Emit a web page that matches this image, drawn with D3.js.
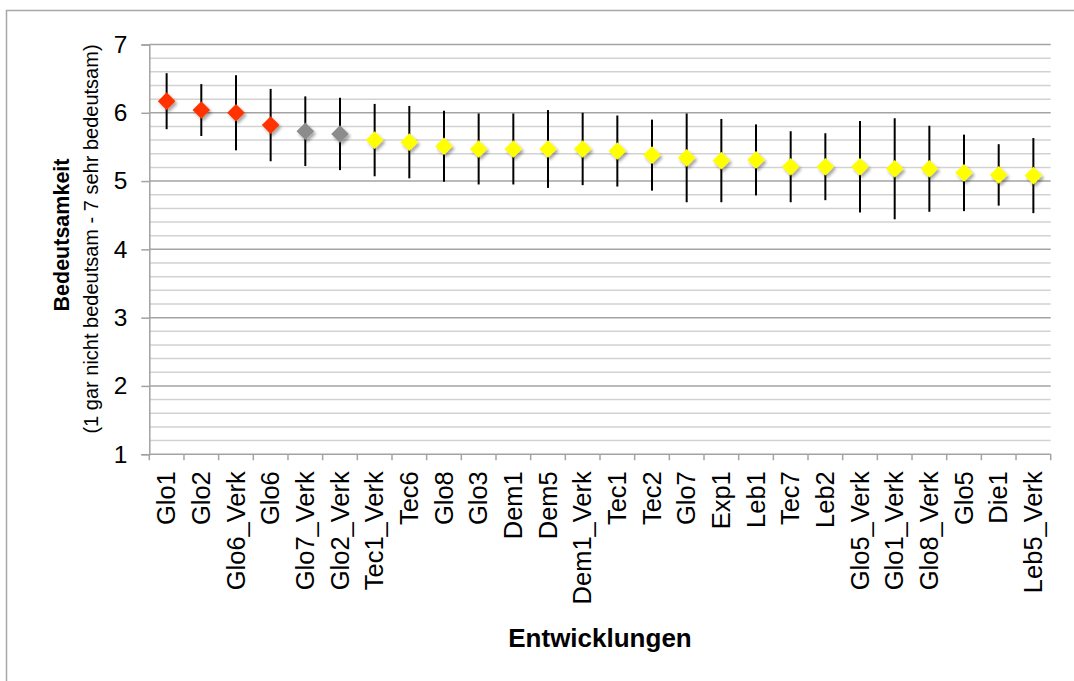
<!DOCTYPE html>
<html>
<head>
<meta charset="utf-8">
<script src="https://cdn.jsdelivr.net/npm/d3@7"></script>
<style>
  html, body { margin: 0; padding: 0; background: #fff; }
  svg { display: block; font-family: "Liberation Sans", Arial, Helvetica, sans-serif; }
</style>
</head>
<body>
<svg id="chart" width="1074" height="681"></svg>
<script>
// Developments, ordered by mean importance rating
const categories = ["Glo1","Glo2","Glo6_Verk","Glo6","Glo7_Verk","Glo2_Verk","Tec1_Verk","Tec6","Glo8","Glo3",
  "Dem1","Dem5","Dem1_Verk","Tec1","Tec2","Glo7","Exp1","Leb1","Tec7","Leb2",
  "Glo5_Verk","Glo1_Verk","Glo8_Verk","Glo5","Die1","Leb5_Verk"];
const means = [6.17,6.04,6.00,5.82,5.73,5.69,5.60,5.57,5.51,5.47,
  5.47,5.47,5.47,5.44,5.38,5.34,5.30,5.31,5.21,5.21,
  5.21,5.18,5.18,5.12,5.09,5.08];
const sds = [0.41,0.38,0.55,0.53,0.51,0.53,0.53,0.53,0.52,0.52,
  0.52,0.57,0.53,0.52,0.52,0.65,0.61,0.52,0.52,0.49,
  0.67,0.74,0.63,0.56,0.45,0.55];
// marker group: 0 = red, 1 = grey, 2 = yellow
const groups = [0,0,0,0,1,1,2,2,2,2,2,2,2,2,2,2,2,2,2,2,2,2,2,2,2,2];
const groupColors = ["#ff3300","#8c8c8c","#ffff00"];
const yTicks = [1,2,3,4,5,6,7];

(function draw() {
  const svg = d3.select("#chart");
  const plotLeft = 149.3, plotRight = 1050.7, plotTop = 44.5, plotBottom = 454.2;

  // outer frame (top and left edges)
  svg.append("path")
    .attr("d", `M6.5,681 L6.5,10.5 L1074,10.5`)
    .attr("fill", "none").attr("stroke", "#a6a6a6").attr("stroke-width", 1.5);

  const x = d3.scaleBand().domain(categories).range([plotLeft, plotRight]).padding(0);
  const y = d3.scaleLinear().domain([1, 7]).range([plotBottom, plotTop]);

  // drop shadow for markers
  const defs = svg.append("defs");
  const f = defs.append("filter").attr("id", "shadow")
    .attr("x", "-50%").attr("y", "-50%").attr("width", "200%").attr("height", "200%");
  f.append("feDropShadow").attr("dx", 2).attr("dy", 2.5).attr("stdDeviation", 1.6)
    .attr("flood-color", "#000").attr("flood-opacity", 0.35);

  // minor gridlines every 0.2
  const minor = d3.range(1, 7.001, 0.2).filter(v => Math.abs(v - Math.round(v)) > 1e-6);
  svg.append("g").selectAll("line").data(minor).join("line")
    .attr("x1", plotLeft).attr("x2", plotRight)
    .attr("y1", d => y(d)).attr("y2", d => y(d))
    .attr("stroke", "#d2d2d2").attr("stroke-width", 1.5);

  // major gridlines
  svg.append("g").selectAll("line").data(yTicks.slice(1)).join("line")
    .attr("x1", plotLeft).attr("x2", plotRight)
    .attr("y1", d => y(d)).attr("y2", d => y(d))
    .attr("stroke", "#a3a3a3").attr("stroke-width", 1.5);

  // y axis
  const yAxis = svg.append("g").attr("transform", `translate(${plotLeft},0)`)
    .call(d3.axisLeft(y).tickValues(yTicks).tickFormat(d3.format("d")).tickSize(8).tickPadding(14));
  yAxis.select(".domain").attr("stroke", "#a3a3a3").attr("stroke-width", 1.5);
  yAxis.selectAll(".tick line").attr("stroke", "#a3a3a3").attr("stroke-width", 1.5);
  yAxis.selectAll(".tick text").attr("font-size", 24.5).attr("fill", "#000")
    .attr("font-family", "'Liberation Sans', Arial, sans-serif");

  // x axis with ticks at band boundaries
  svg.append("line").attr("x1", plotLeft).attr("x2", plotRight).attr("y1", plotBottom).attr("y2", plotBottom)
    .attr("stroke", "#a3a3a3").attr("stroke-width", 1.5);
  const bounds = categories.map(c => x(c)).concat([plotRight]);
  svg.append("g").selectAll("line").data(bounds).join("line")
    .attr("x1", d => d).attr("x2", d => d).attr("y1", plotBottom).attr("y2", plotBottom + 6)
    .attr("stroke", "#a3a3a3").attr("stroke-width", 1.5);

  // category labels, rotated
  svg.append("g").selectAll("text").data(categories).join("text")
    .attr("transform", d => `translate(${x(d) + x.bandwidth() / 2 + 8.8},${plotBottom + 17}) rotate(-90)`)
    .attr("text-anchor", "end")
    .attr("font-size", 25.5)
    .attr("fill", "#000")
    .text(d => d);

  // error bars (mean ± sd)
  svg.append("g").selectAll("line").data(categories).join("line")
    .attr("x1", d => x(d) + x.bandwidth() / 2).attr("x2", d => x(d) + x.bandwidth() / 2)
    .attr("y1", (d, i) => y(means[i] + sds[i])).attr("y2", (d, i) => y(means[i] - sds[i]))
    .attr("stroke", "#000").attr("stroke-width", 2);

  // diamond markers
  const diamond = d3.symbol().type(d3.symbolSquare).size(155);
  svg.append("g").attr("filter", "url(#shadow)").selectAll("path").data(categories).join("path")
    .attr("d", diamond)
    .attr("transform", (d, i) => `translate(${x(d) + x.bandwidth() / 2},${y(means[i])}) rotate(45)`)
    .attr("fill", (d, i) => groupColors[groups[i]]);

  // axis titles
  svg.append("text")
    .attr("transform", `translate(${(plotLeft + plotRight) / 2},647)`)
    .attr("text-anchor", "middle").attr("font-size", 26).attr("font-weight", "bold")
    .text("Entwicklungen");

  svg.append("text")
    .attr("transform", `translate(69,235) rotate(-90)`)
    .attr("text-anchor", "middle").attr("font-size", 21.5).attr("font-weight", "bold")
    .text("Bedeutsamkeit");

  svg.append("text")
    .attr("transform", `translate(98,239) rotate(-90)`)
    .attr("text-anchor", "middle").attr("font-size", 20)
    .text("(1 gar nicht bedeutsam - 7 sehr bedeutsam)");
})();
</script>
</body>
</html>
